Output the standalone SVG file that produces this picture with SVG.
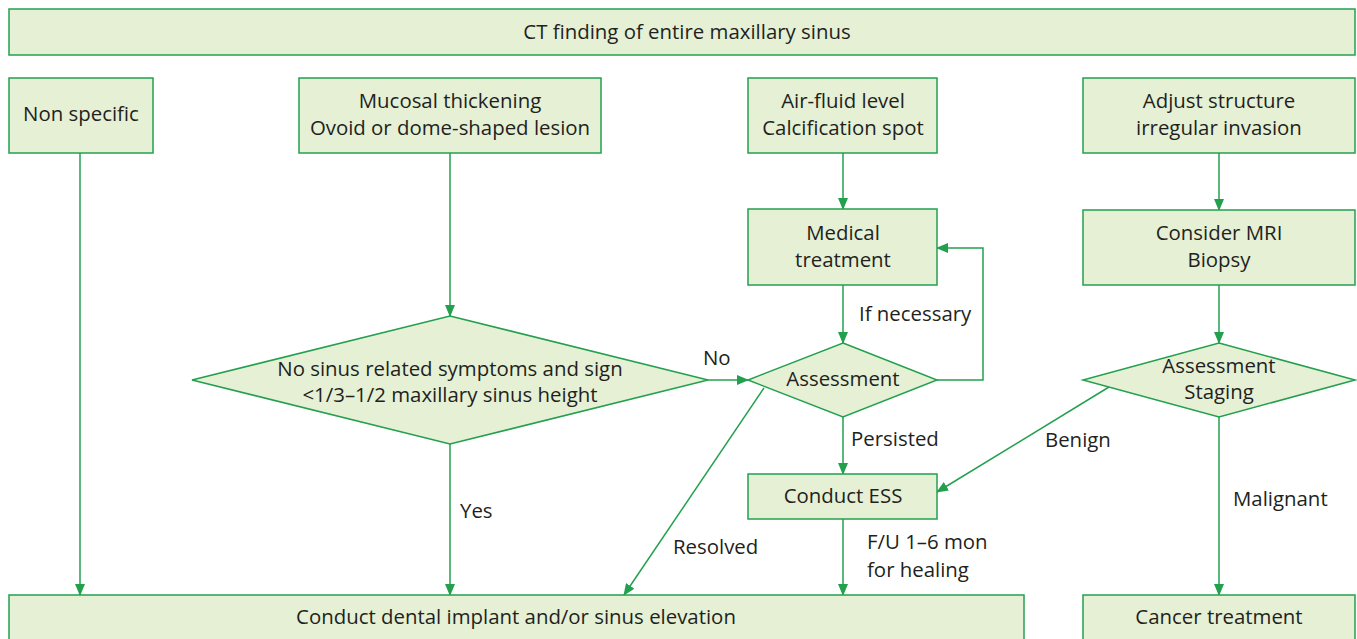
<svg xmlns="http://www.w3.org/2000/svg" width="1357" height="639" viewBox="0 0 1357 639">
<defs>
<style>
.n{fill:#e5f0d5;stroke:#23a04e;stroke-width:1.5}
.t{font-family:"Open Sans","Noto Sans","Liberation Sans",sans-serif;font-size:20.4px;fill:#231f20;text-anchor:middle}
.l{font-family:"Open Sans","Noto Sans","Liberation Sans",sans-serif;font-size:20.4px;fill:#231f20;text-anchor:start}
.c{fill:none;stroke:#23a04e;stroke-width:1.5}
</style>
<marker id="a" markerWidth="12" markerHeight="10" refX="11" refY="5" orient="auto" markerUnits="userSpaceOnUse">
<path d="M0,0 L12,5 L0,10 z" fill="#23a04e"/>
</marker>
</defs>
<rect width="1357" height="639" fill="#fff"/>
<g id="connectors">
<path class="c" d="M80,153 V595" marker-end="url(#a)"/>
<path class="c" d="M450,153 V316" marker-end="url(#a)"/>
<path class="c" d="M450,444 V595" marker-end="url(#a)"/>
<path class="c" d="M708,380 H748" marker-end="url(#a)"/>
<path class="c" d="M843,153 V209" marker-end="url(#a)"/>
<path class="c" d="M843,285 V343" marker-end="url(#a)"/>
<path class="c" d="M937,380 H983 V248 H937" marker-end="url(#a)"/>
<path class="c" d="M843,417 V474" marker-end="url(#a)"/>
<path class="c" d="M764,388 L624,595" marker-end="url(#a)"/>
<path class="c" d="M843,519 V595" marker-end="url(#a)"/>
<path class="c" d="M1219,153 V210" marker-end="url(#a)"/>
<path class="c" d="M1219,285 V343" marker-end="url(#a)"/>
<path class="c" d="M1219,417 V595" marker-end="url(#a)"/>
<path class="c" d="M1109,387 L937,492" marker-end="url(#a)"/>
<text class="l" x="703" y="365">No</text>
<text class="l" x="460" y="518">Yes</text>
<text class="l" x="859" y="321">If necessary</text>
<text class="l" x="851" y="446">Persisted</text>
<text class="l" x="673" y="554">Resolved</text>
<text class="l" x="867" y="549">F/U 1–6 mon</text>
<text class="l" x="867" y="577">for healing</text>
<text class="l" x="1045" y="447">Benign</text>
<text class="l" x="1233" y="506">Malignant</text>
</g>
<g id="ct"><rect class="n" x="9" y="9" width="1346" height="46"/><text class="t" x="687" y="39">CT finding of entire maxillary sinus</text></g>
<g id="nonspecific"><rect class="n" x="9" y="78" width="144" height="75"/><text class="t" x="81" y="121">Non specific</text></g>
<g id="mucosal"><rect class="n" x="299" y="78" width="302" height="75"/><text class="t" x="450" y="108">Mucosal thickening</text><text class="t" x="450" y="135">Ovoid or dome-shaped lesion</text></g>
<g id="airfluid"><rect class="n" x="748" y="78" width="189" height="75"/><text class="t" x="843" y="108">Air-fluid level</text><text class="t" x="843" y="135">Calcification spot</text></g>
<g id="adjust"><rect class="n" x="1083" y="78" width="272" height="75"/><text class="t" x="1219" y="108">Adjust structure</text><text class="t" x="1219" y="135">irregular invasion</text></g>
<g id="medical"><rect class="n" x="748" y="209" width="189" height="76"/><text class="t" x="843" y="240">Medical</text><text class="t" x="843" y="267">treatment</text></g>
<g id="mri"><rect class="n" x="1083" y="210" width="272" height="75"/><text class="t" x="1219" y="240">Consider MRI</text><text class="t" x="1219" y="267">Biopsy</text></g>
<g id="symptoms"><polygon class="n" points="450,316 708,380 450,444 192,380"/><text class="t" x="450" y="376">No sinus related symptoms and sign</text><text class="t" x="450" y="402">&lt;1/3–1/2 maxillary sinus height</text></g>
<g id="assessment"><polygon class="n" points="843,343 937,380 843,417 748,380"/><text class="t" x="843" y="386">Assessment</text></g>
<g id="staging"><polygon class="n" points="1219,343 1355,380 1219,417 1083,380"/><text class="t" x="1219" y="373">Assessment</text><text class="t" x="1219" y="399">Staging</text></g>
<g id="ess"><rect class="n" x="748" y="474" width="189" height="45"/><text class="t" x="843" y="503">Conduct ESS</text></g>
<g id="implant"><rect class="n" x="9" y="595" width="1015" height="50"/><text class="t" x="516" y="624">Conduct dental implant and/or sinus elevation</text></g>
<g id="cancer"><rect class="n" x="1083" y="595" width="272" height="50"/><text class="t" x="1219" y="624">Cancer treatment</text></g>
</svg>
